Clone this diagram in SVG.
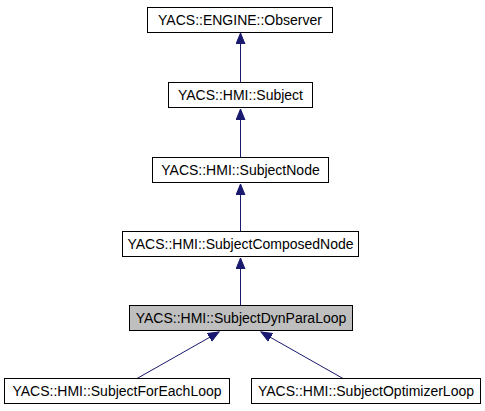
<svg xmlns="http://www.w3.org/2000/svg" width="485" height="411" viewBox="0 0 485 411">
<style>
.n rect{fill:#fff;stroke:#000;stroke-width:1}
.n.cur rect{fill:#bfbfbf}
.n text{font-family:"Liberation Sans",Arial,sans-serif;font-size:14px;fill:#000;text-anchor:middle}
.e line{stroke:#191970;stroke-width:1}
</style>
<defs>
<marker id="a" markerWidth="12" markerHeight="10" refX="11" refY="5" orient="auto" markerUnits="userSpaceOnUse">
<path d="M0,0.5 L11,5 L0,9.5 Z" fill="#191970" stroke="#191970"/>
</marker>
</defs>
<rect width="485" height="411" fill="#fff"/>
<g id="connectors" class="e">
<line x1="240.5" y1="82.5" x2="240.5" y2="33" marker-end="url(#a)"/>
<line x1="240.5" y1="157.5" x2="240.5" y2="109" marker-end="url(#a)"/>
<line x1="240.5" y1="231.5" x2="240.5" y2="184" marker-end="url(#a)"/>
<line x1="240.5" y1="305.5" x2="240.5" y2="258" marker-end="url(#a)"/>
<line x1="137" y1="378.5" x2="219" y2="332" marker-end="url(#a)"/>
<line x1="343" y1="378.5" x2="261" y2="332" marker-end="url(#a)"/>
</g>
<g id="observer" class="n"><rect x="147.5" y="7.5" width="185" height="25"/><text x="240" y="25">YACS::ENGINE::Observer</text></g>
<g id="subject" class="n"><rect x="168.5" y="82.5" width="144" height="25"/><text x="240.5" y="100">YACS::HMI::Subject</text></g>
<g id="subjectNode" class="n"><rect x="152.5" y="157.5" width="176" height="25"/><text x="240.5" y="175">YACS::HMI::SubjectNode</text></g>
<g id="subjectComposedNode" class="n"><rect x="122.5" y="231.5" width="236" height="25"/><text x="240.5" y="249">YACS::HMI::SubjectComposedNode</text></g>
<g id="subjectDynParaLoop" class="n cur"><rect x="129.5" y="305.5" width="223" height="25"/><text x="241" y="323">YACS::HMI::SubjectDynParaLoop</text></g>
<g id="subjectForEachLoop" class="n"><rect x="4.5" y="378.5" width="225" height="25"/><text x="117" y="396">YACS::HMI::SubjectForEachLoop</text></g>
<g id="subjectOptimizerLoop" class="n"><rect x="251.5" y="378.5" width="229" height="25"/><text x="366" y="396">YACS::HMI::SubjectOptimizerLoop</text></g>
</svg>
